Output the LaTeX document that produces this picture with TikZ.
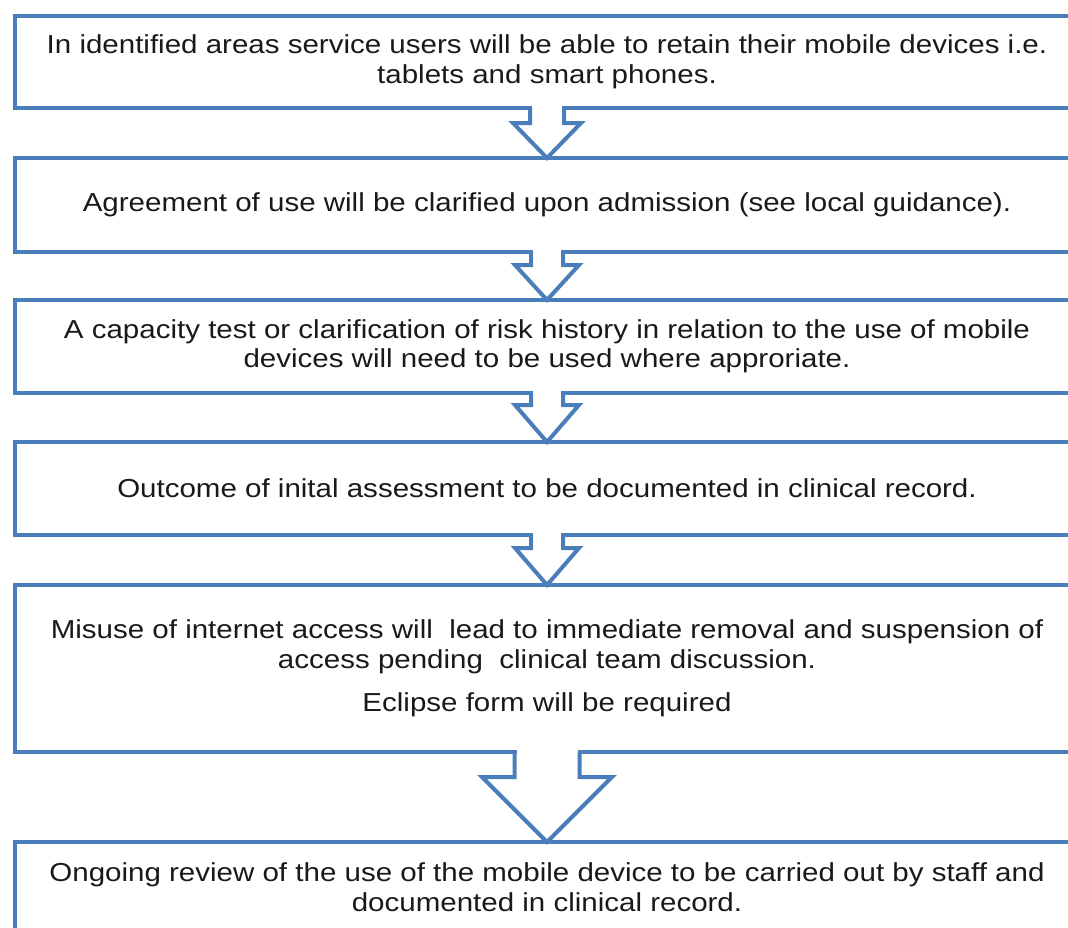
\documentclass[tikz,border=0pt]{standalone}
\usepackage{fontspec}
\setmainfont[FakeStretch=1.135]{Liberation Sans}
\usetikzlibrary{positioning,calc}

\definecolor{boxblue}{RGB}{74,126,187}

% hollow block arrow: from node, to node, half shaft width, shoulder depth
\newcommand{\flowarrow}[4]{%
    \fill[white] ($(#1.south)+(-#3+2,-3)$) rectangle ($(#1.south)+(#3-2,#4)$);
    \draw[arrowline] ($(#1.south)+(-#3,0)$) -- ++(0,#4) -- ++(-#3,0)
        -- (#2.north) -- ($(#1.south)+(2*#3,#4)$) -- ++(-#3,0) -- ++(0,-#4);
}

\begin{document}
\begin{tikzpicture}[
            x=1pt,
            y=-1pt,
            node distance=50pt,
            step box/.style={
                draw=boxblue,
                line width=4pt,
                minimum width=1065pt,
                outer sep=0pt,
                inner sep=0pt,
                align=center,
                text=black!90,
                font=\fontsize{26}{29.5}\selectfont
            },
            arrowline/.style={
                draw=boxblue,
                line width=4pt
            }
        ]
            \useasboundingbox (0,0) rectangle (1068,927);
            \clip (0,0) rectangle (1068,927);

            \node[step box, minimum height=92pt] (retain) at (547,62)
                {In identified areas service users will be able to retain their mobile devices i.e.\\
                 tablets and smart phones.};
            \node[step box, minimum height=94pt, below=50pt of retain] (agree)
                {Agreement of use will be clarified upon admission (see local guidance).};
            \node[step box, minimum height=93pt, below=48pt of agree] (capacity)
                {A capacity test or clarification of risk history in relation to the use of mobile\\
                 devices will need to be used where approriate.};
            \node[step box, minimum height=93pt, below=49pt of capacity] (outcome)
                {Outcome of inital assessment to be documented in clinical record.};
            \node[step box, minimum height=167pt, below=50pt of outcome] (misuse)
                {Misuse of internet access will\ \ lead to immediate removal and suspension of\\
                 access pending\ \ clinical team discussion.\\[14pt]
                 Eclipse form will be required};
            \node[step box, minimum height=90pt, below=90pt of misuse] (review)
                {Ongoing review of the use of the mobile device to be carried out by staff and\\
                 documented in clinical record.};

            \flowarrow{retain}{agree}{17}{15}
            \flowarrow{agree}{capacity}{16}{13}
            \flowarrow{capacity}{outcome}{16}{12}
            \flowarrow{outcome}{misuse}{16}{13}
            \flowarrow{misuse}{review}{32.5}{25}
        \end{tikzpicture}
\end{document}
